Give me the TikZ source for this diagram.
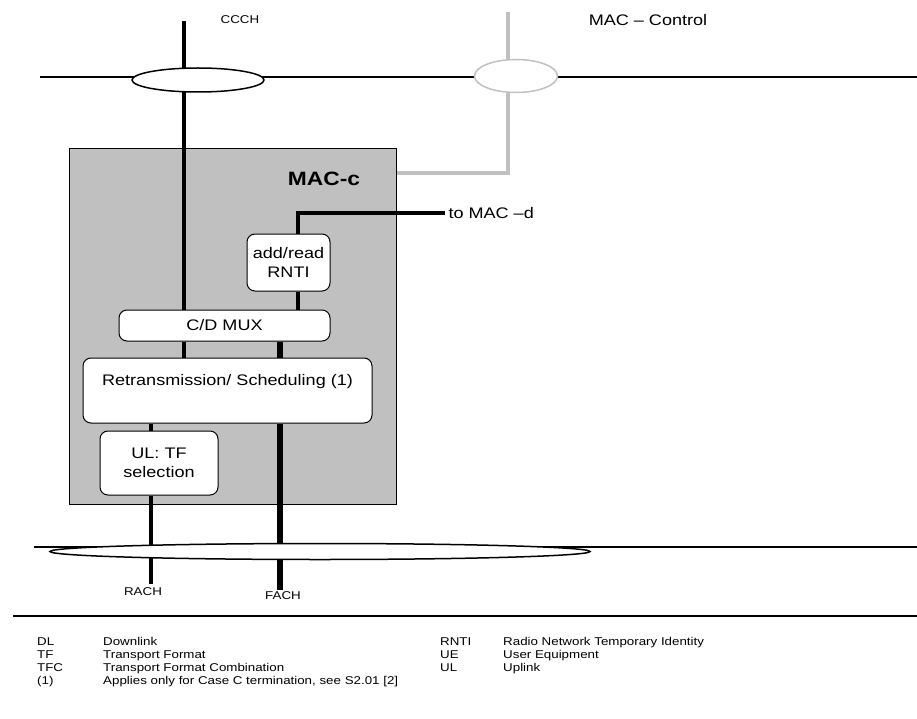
\documentclass[tikz,border=0pt]{standalone}
\usepackage{fontspec}
\setmainfont{Liberation Sans}[FakeStretch=1.18]
\usetikzlibrary{shapes.geometric,calc}
\definecolor{macgray}{RGB}{192,192,192}
\newcommand{\legfont}{\fontsize{11.3}{13}\selectfont}
\newcommand{\boxfont}{\fontsize{15.3}{19}\selectfont}
\newcommand{\macfont}{\fontsize{19.3}{23}\selectfont}

\begin{document}
\begin{tikzpicture}[x=1pt, y=-1pt, font=\boxfont,
    blk/.style={draw, fill=white, rounded corners=8pt, line width=1pt, align=center, inner sep=0pt},
    chan/.style={ellipse, draw, fill=white, line width=1.5pt, inner sep=0pt},
    leg/.style={font=\legfont, anchor=base west, inner sep=0pt},
    bus/.style={line width=2pt},
    ch/.style={line width=4pt},
    fat/.style={line width=6pt},
    ctl/.style={line width=3.5pt, draw=macgray}]
      \useasboundingbox (0,0) rectangle (917,719);
      %nodes
      \node[draw, fill=macgray, line width=1pt, inner sep=0pt, minimum width=327pt, minimum height=355pt] (macc) at (232.5,326.5) {};
      \node[font=\macfont\bfseries] (macclbl) at (324,179) {MAC-c};
      \node[blk, minimum width=83pt, minimum height=57pt] (rnti) at (288.5,262.5) {add/read\\RNTI};
      \node[blk, minimum width=211pt, minimum height=31pt] (cdmux) at (224.5,325.5) {C/D MUX};
      \node[blk, minimum width=289pt, minimum height=65pt] (retx) at (227.5,390.5) {Retransmission/ Scheduling (1)\\[3pt]\mbox{}};
      \node[blk, minimum width=118pt, minimum height=64pt] (ultf) at (159,463) {UL: TF\\selection};
      \coordinate (ccchtop) at (184,21);
      \coordinate (ctltop) at (508,12);
      \coordinate (ctlbend) at (508,173);
      \coordinate (dbend) at (298,213);
      \coordinate (dend) at (445,213);
      \coordinate (rachend) at (151,584);
      \coordinate (fachend) at (280,590);
      \coordinate (topl) at (40,77);
      \coordinate (topr) at (917,77);
      \coordinate (botl) at (34,547);
      \coordinate (botr) at (917,547);
      \coordinate (sepl) at (13,616);
      \coordinate (sepr) at (917,616);
      %edges
      \path [draw, bus] (topl) to (topr);
      \path [draw, bus] (botl) to (botr);
      \path [draw, line width=1.3pt] (sepl) to (sepr);
      \path [draw, ch] (ccchtop) to (ccchtop |- cdmux.north);
      \path [draw, ch] (cdmux.south -| ccchtop) to (retx.north -| ccchtop);
      \path [draw, fat] (cdmux.south -| fachend) to (retx.north -| fachend);
      \path [draw, ch] (retx.south -| rachend) to (ultf.north -| rachend);
      \path [draw, ch] (ultf.south -| rachend) to (rachend);
      \path [draw, fat] (retx.south -| fachend) to (fachend);
      \path [draw, ch] (rnti.south -| dbend) to (cdmux.north -| dbend);
      \path [draw, ch] (rnti.north -| dbend) -- (dbend) -- (dend);
      \path [draw, ctl] (ctltop) -- (ctlbend) -- (ctlbend -| macc.east);
      %rings
      \node[chan, minimum width=132pt, minimum height=24pt] (ccchring) at (198,80) {};
      \node[chan, draw=macgray, minimum width=83pt, minimum height=33pt] (ctlring) at (516,76) {};
      \node[chan, minimum width=540pt, minimum height=16pt] (trring) at (320,551.5) {};
      %labels
      \node[font=\legfont] (ccchlbl) at (240,20) {CCCH};
      \node (ctllbl) at (648,20) {MAC – Control};
      \node[anchor=west] (dlbl) at (dend) {to MAC –d};
      \node[font=\legfont] (rachlbl) at (143,592) {RACH};
      \node[font=\legfont] (fachlbl) at (283,596) {FACH};
      %legend
      \node[leg] (ab1) at (37,645) {DL};
      \node[leg] (tx1) at (103,645) {Downlink};
      \node[leg] (ab2) at (37,658) {TF};
      \node[leg] (tx2) at (103,658) {Transport Format};
      \node[leg] (ab3) at (37,671) {TFC};
      \node[leg] (tx3) at (103,671) {Transport Format Combination};
      \node[leg] (ab4) at (37,684) {(1)};
      \node[leg] (tx4) at (103,684) {Applies only for Case C termination, see S2.01 [2]};
      \node[leg] (ab5) at (440,645) {RNTI};
      \node[leg] (tx5) at (503,645) {Radio Network Temporary Identity};
      \node[leg] (ab6) at (440,658) {UE};
      \node[leg] (tx6) at (503,658) {User Equipment};
      \node[leg] (ab7) at (440,671) {UL};
      \node[leg] (tx7) at (503,671) {Uplink};
\end{tikzpicture}
\end{document}
